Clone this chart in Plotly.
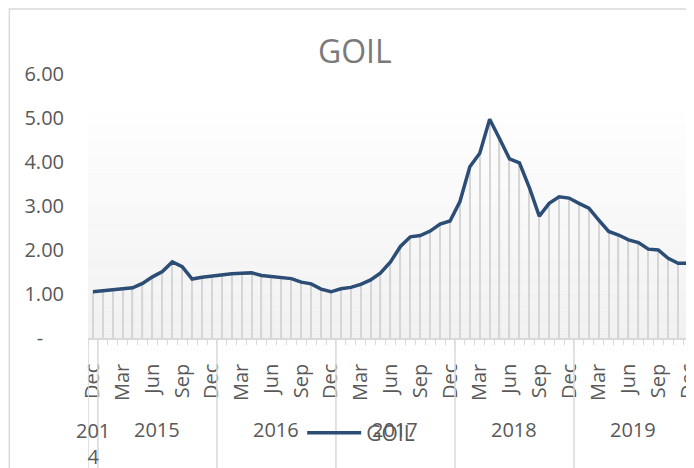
import plotly.graph_objects as go

# Datos mensuales GOIL, Dic 2014 - Dic 2019
meses = ['Dec', 'Jan', 'Feb', 'Mar', 'Apr', 'May', 'Jun', 'Jul', 'Aug', 'Sep', 'Oct', 'Nov'] + \
        ['Dec', 'Jan', 'Feb', 'Mar', 'Apr', 'May', 'Jun', 'Jul', 'Aug', 'Sep', 'Oct', 'Nov'] * 4 + ['Dec']
anios = ['2014', '2015', '2016', '2017', '2018', '2019']
meses_por_anio = [1, 12, 12, 12, 12, 12]
goil = [1.05, 1.07, 1.09, 1.11, 1.14, 1.24, 1.39, 1.51, 1.73, 1.62,
        1.34, 1.38, 1.41, 1.45, 1.46, 1.47, 1.48, 1.42, 1.39, 1.36,
        1.35, 1.27, 1.23, 1.11, 1.05, 1.12, 1.15, 1.22, 1.32, 1.48,
        1.73, 2.08, 2.30, 2.33, 2.43, 2.59, 2.66, 3.10, 3.89, 4.20,
        4.97, 4.53, 4.07, 3.98, 3.42, 2.77, 3.06, 3.21, 3.18, 3.06,
        2.95, 2.68, 2.42, 2.34, 2.23, 2.17, 2.02, 2.00, 1.81, 1.70,
        1.70]
y_ticks = [0, 1, 2, 3, 4, 5, 6]
y_labels = ['-\u00a0\u00a0\u00a0\u00a0', '1.00', '2.00', '3.00', '4.00', '5.00', '6.00']

idx = list(range(len(goil)))
# En el eje solo se etiquetan Dic, Mar, Jun, Sep
etiq_idx = [i for i in idx if i % 3 == 0]
etiq_txt = [meses[i] for i in etiq_idx]

FUENTE = 'Open Sans'
GRIS_TXT = '#595959'
GRIS_LIN = '#d9d9d9'

fig = go.Figure()

# Líneas de caída (drop lines)
fig.add_trace(go.Bar(
    x=idx,
    y=goil,
    width=0.13,
    marker=dict(color='#d6d6d6', line=dict(width=0)),
    showlegend=False,
    hoverinfo='skip'
))

fig.add_trace(go.Scatter(
    x=idx,
    y=goil,
    mode='lines',
    name='GOIL',
    line=dict(color='#2c4d75', width=3.5),
    hovertemplate='%{y:.2f}<extra></extra>'
))

# Fondo degradado del área de trazado
shapes = []
n_bandas = 40
tope = 5.18
for k in range(n_bandas):
    t = k / (n_bandas - 1)
    c = int(round(241 + (254 - 241) * t))
    shapes.append(dict(
        type='rect', xref='paper', yref='y',
        x0=0, x1=1, y0=tope * k / n_bandas, y1=tope * (k + 1) / n_bandas,
        fillcolor=f'rgb({c},{c},{c})', line=dict(width=0), layer='below'
    ))

# Separadores de años en el eje de categorías
limites = [-0.5]
for n in meses_por_anio:
    limites.append(limites[-1] + n)
for b in limites:
    shapes.append(dict(
        type='line', xref='x', yref='paper',
        x0=b, x1=b, y0=0, y1=-0.5,
        line=dict(color=GRIS_LIN, width=1.5)
    ))

# Borde del gráfico
shapes.append(dict(
    type='rect', xref='paper', yref='paper',
    x0=-0.13, x1=1.05, y0=-0.6, y1=1.246,
    line=dict(color=GRIS_LIN, width=1.5)
))

# Etiquetas de años
annotations = []
for k, anio in enumerate(anios):
    centro = (limites[k] + limites[k + 1]) / 2
    texto = anio if meses_por_anio[k] > 1 else anio[:3] + '<br>' + anio[3:]
    annotations.append(dict(
        x=centro, y=-0.348 if meses_por_anio[k] > 1 else -0.40,
        xref='x', yref='paper', text=texto, showarrow=False,
        font=dict(family=FUENTE, size=20, color=GRIS_TXT),
        yanchor='middle'
    ))

fig.update_layout(
    width=686,
    height=460,
    margin=dict(l=80, r=1, t=66, b=130),
    paper_bgcolor='white',
    plot_bgcolor='white',
    barmode='overlay',
    title=dict(
        text='GOIL', x=0.441, xref='paper', xanchor='center',
        y=0.904, yanchor='middle', automargin=False,
        font=dict(family=FUENTE, size=32, color='#7a7a7a')
    ),
    xaxis=dict(
        range=[-0.5, len(goil) - 0.5],
        automargin=False,
        tickmode='array',
        tickvals=etiq_idx,
        ticktext=etiq_txt,
        tickangle=-90,
        ticks='',
        ticklabelstandoff=16,
        ticklabeloverflow='allow',
        tickfont=dict(family=FUENTE, size=20, color=GRIS_TXT),
        showgrid=False,
        zeroline=False,
        showline=True,
        linecolor=GRIS_LIN,
        linewidth=1.5,
        minor=dict(tick0=-0.5, dtick=1, ticks='outside', ticklen=5,
                   tickcolor=GRIS_LIN, showgrid=False)
    ),
    yaxis=dict(
        range=[0, 6],
        automargin=False,
        tickmode='array',
        tickvals=y_ticks,
        ticktext=y_labels,
        tickfont=dict(family=FUENTE, size=20, color=GRIS_TXT),
        showgrid=False,
        zeroline=False,
        showline=False,
        ticks='',
        ticklabelstandoff=23
    ),
    legend=dict(
        orientation='h',
        x=0.354, xanchor='left',
        y=-0.36, yanchor='middle',
        bgcolor='rgba(0,0,0,0)',
        font=dict(family=FUENTE, size=21, color=GRIS_TXT),
        itemwidth=54
    ),
    shapes=shapes,
    annotations=annotations,
    showlegend=True
)

fig.write_html("out.html")
